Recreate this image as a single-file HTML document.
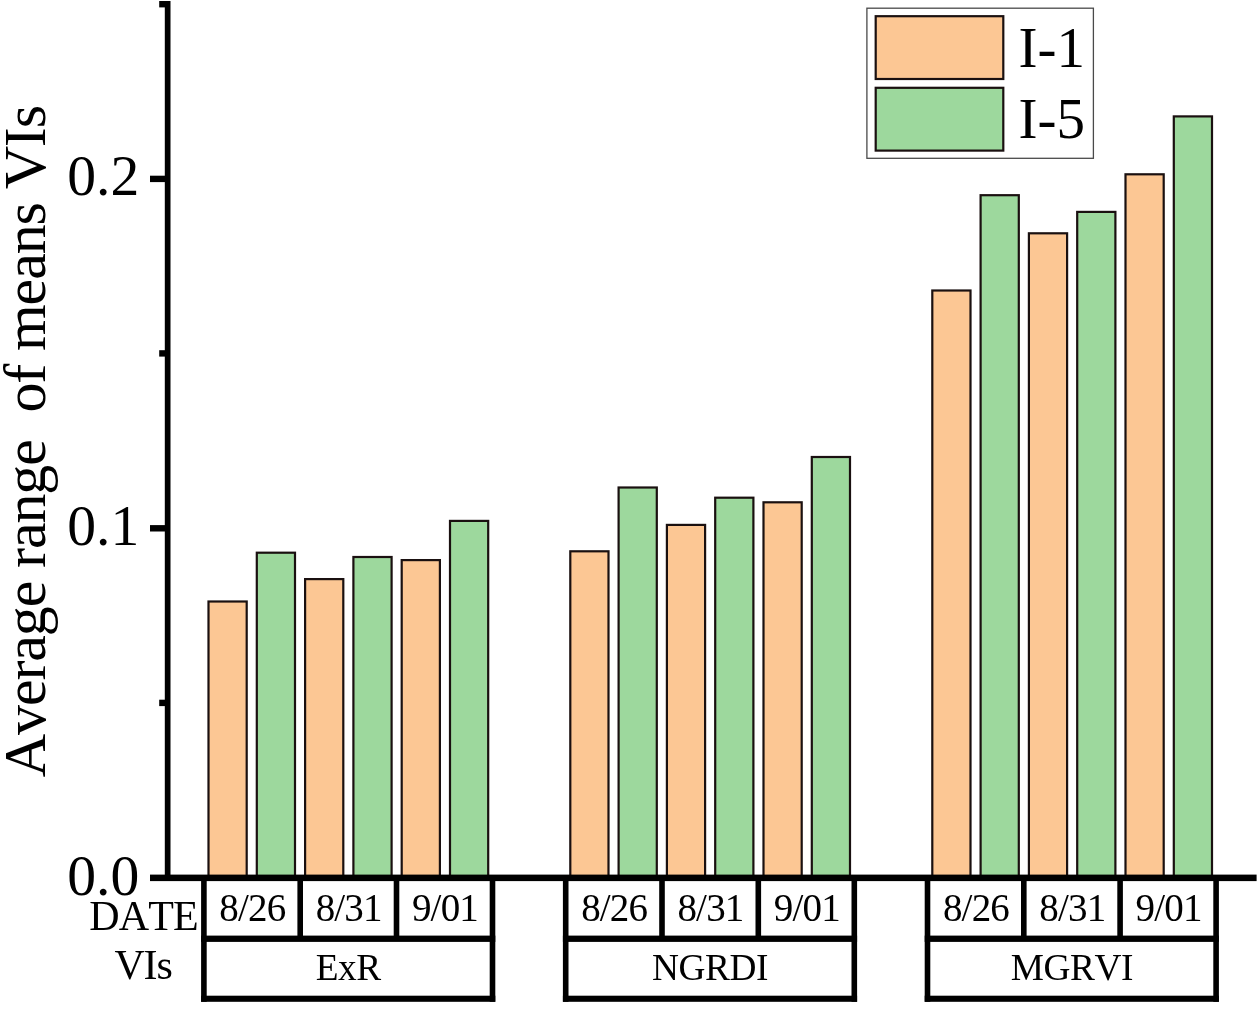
<!DOCTYPE html>
<html><head><meta charset="utf-8"><title>Average range of means VIs</title>
<style>
html,body{margin:0;padding:0;background:#fff;}
body{width:1259px;height:1010px;overflow:hidden;font-family:"Liberation Serif",serif;}
svg{display:block;will-change:transform;}
svg text{font-family:"Liberation Serif",serif;fill:#000;font-kerning:none;}
</style></head><body>
<svg width="1259" height="1010" viewBox="0 0 1259 1010">
<rect x="208.50" y="601.50" width="38.20" height="275.10" fill="#FCC794" stroke="#1a1010" stroke-width="2.2"/>
<rect x="256.80" y="552.70" width="38.20" height="323.90" fill="#9DD89D" stroke="#1a1010" stroke-width="2.2"/>
<rect x="305.10" y="579.10" width="38.20" height="297.50" fill="#FCC794" stroke="#1a1010" stroke-width="2.2"/>
<rect x="353.40" y="557.00" width="38.20" height="319.60" fill="#9DD89D" stroke="#1a1010" stroke-width="2.2"/>
<rect x="401.70" y="560.10" width="38.20" height="316.50" fill="#FCC794" stroke="#1a1010" stroke-width="2.2"/>
<rect x="450.00" y="520.90" width="38.20" height="355.70" fill="#9DD89D" stroke="#1a1010" stroke-width="2.2"/>
<rect x="570.30" y="551.30" width="38.20" height="325.30" fill="#FCC794" stroke="#1a1010" stroke-width="2.2"/>
<rect x="618.60" y="487.50" width="38.20" height="389.10" fill="#9DD89D" stroke="#1a1010" stroke-width="2.2"/>
<rect x="666.90" y="524.90" width="38.20" height="351.70" fill="#FCC794" stroke="#1a1010" stroke-width="2.2"/>
<rect x="715.20" y="497.70" width="38.20" height="378.90" fill="#9DD89D" stroke="#1a1010" stroke-width="2.2"/>
<rect x="763.50" y="502.30" width="38.20" height="374.30" fill="#FCC794" stroke="#1a1010" stroke-width="2.2"/>
<rect x="811.80" y="457.00" width="38.20" height="419.60" fill="#9DD89D" stroke="#1a1010" stroke-width="2.2"/>
<rect x="932.30" y="290.50" width="38.20" height="586.10" fill="#FCC794" stroke="#1a1010" stroke-width="2.2"/>
<rect x="980.60" y="195.20" width="38.20" height="681.40" fill="#9DD89D" stroke="#1a1010" stroke-width="2.2"/>
<rect x="1028.90" y="233.30" width="38.20" height="643.30" fill="#FCC794" stroke="#1a1010" stroke-width="2.2"/>
<rect x="1077.20" y="211.90" width="38.20" height="664.70" fill="#9DD89D" stroke="#1a1010" stroke-width="2.2"/>
<rect x="1125.50" y="174.30" width="38.20" height="702.30" fill="#FCC794" stroke="#1a1010" stroke-width="2.2"/>
<rect x="1173.80" y="116.40" width="38.20" height="760.20" fill="#9DD89D" stroke="#1a1010" stroke-width="2.2"/>
<rect x="164.8" y="1" width="5.7" height="880" fill="#000"/>
<rect x="150" y="874.6" width="1106.6" height="6.5" fill="#000"/>
<rect x="150" y="175.70" width="16" height="6.4" fill="#000"/>
<rect x="150" y="525.10" width="16" height="6.4" fill="#000"/>
<rect x="159.2" y="1.00" width="7" height="6.4" fill="#000"/>
<rect x="159.2" y="350.20" width="7" height="6.4" fill="#000"/>
<rect x="159.2" y="699.70" width="7" height="6.4" fill="#000"/>
<rect x="201.10" y="878" width="5.6" height="123.8" fill="#000"/>
<rect x="489.70" y="878" width="5.6" height="123.8" fill="#000"/>
<rect x="297.40" y="878" width="5.6" height="60" fill="#000"/>
<rect x="393.70" y="878" width="5.6" height="60" fill="#000"/>
<rect x="201.10" y="935.6" width="294.2" height="6.3" fill="#000"/>
<rect x="201.10" y="995.7" width="294.2" height="6.1" fill="#000"/>
<rect x="562.90" y="878" width="5.6" height="123.8" fill="#000"/>
<rect x="851.50" y="878" width="5.6" height="123.8" fill="#000"/>
<rect x="659.20" y="878" width="5.6" height="60" fill="#000"/>
<rect x="755.50" y="878" width="5.6" height="60" fill="#000"/>
<rect x="562.90" y="935.6" width="294.2" height="6.3" fill="#000"/>
<rect x="562.90" y="995.7" width="294.2" height="6.1" fill="#000"/>
<rect x="924.70" y="878" width="5.6" height="123.8" fill="#000"/>
<rect x="1213.30" y="878" width="5.6" height="123.8" fill="#000"/>
<rect x="1021.00" y="878" width="5.6" height="60" fill="#000"/>
<rect x="1117.30" y="878" width="5.6" height="60" fill="#000"/>
<rect x="924.70" y="935.6" width="294.2" height="6.3" fill="#000"/>
<rect x="924.70" y="995.7" width="294.2" height="6.1" fill="#000"/>
<text x="252.40" y="920.90" font-size="39" text-anchor="middle"  letter-spacing="-0.8">8/26</text>
<text x="348.70" y="920.90" font-size="39" text-anchor="middle"  letter-spacing="-0.8">8/31</text>
<text x="445.00" y="920.90" font-size="39" text-anchor="middle"  letter-spacing="-0.8">9/01</text>
<text x="348.20" y="980.10" font-size="37.3" text-anchor="middle"  letter-spacing="-0.4">ExR</text>
<text x="614.20" y="920.90" font-size="39" text-anchor="middle"  letter-spacing="-0.8">8/26</text>
<text x="710.50" y="920.90" font-size="39" text-anchor="middle"  letter-spacing="-0.8">8/31</text>
<text x="806.80" y="920.90" font-size="39" text-anchor="middle"  letter-spacing="-0.8">9/01</text>
<text x="710.00" y="980.10" font-size="37.3" text-anchor="middle"  letter-spacing="-0.4">NGRDI</text>
<text x="976.00" y="920.90" font-size="39" text-anchor="middle"  letter-spacing="-0.8">8/26</text>
<text x="1072.30" y="920.90" font-size="39" text-anchor="middle"  letter-spacing="-0.8">8/31</text>
<text x="1168.60" y="920.90" font-size="39" text-anchor="middle"  letter-spacing="-0.8">9/01</text>
<text x="1071.80" y="980.10" font-size="37.3" text-anchor="middle"  letter-spacing="-0.4">MGRVI</text>
<text x="143.55" y="929.80" font-size="42" text-anchor="middle"  letter-spacing="-0.9">DATE</text>
<text x="143.00" y="978.70" font-size="42" text-anchor="middle"  letter-spacing="-1.2">VIs</text>
<text x="139.20" y="195.20" font-size="57.6" text-anchor="end" >0.2</text>
<text x="139.20" y="544.70" font-size="57.6" text-anchor="end" >0.1</text>
<text x="139.20" y="894.80" font-size="57.6" text-anchor="end" >0.0</text>
<text transform="translate(45.0,777.2) rotate(-90) scale(1,1.0)" font-size="60" text-anchor="start" xml:space="preserve" letter-spacing="-1.12">Average range  of means VIs</text>
<rect x="866.9" y="8.2" width="226.5" height="150.1" fill="#fff" stroke="#4a4a4a" stroke-width="1.3"/>
<rect x="875.7" y="16.2" width="127.6" height="62.8" fill="#FCC794" stroke="#1a1010" stroke-width="2.2"/>
<rect x="875.7" y="87.8" width="127.6" height="62.8" fill="#9DD89D" stroke="#1a1010" stroke-width="2.2"/>
<text x="1018.60" y="67.20" font-size="57" text-anchor="start" >I-1</text>
<text x="1018.60" y="138.20" font-size="57" text-anchor="start" >I-5</text>
</svg>
</body></html>
